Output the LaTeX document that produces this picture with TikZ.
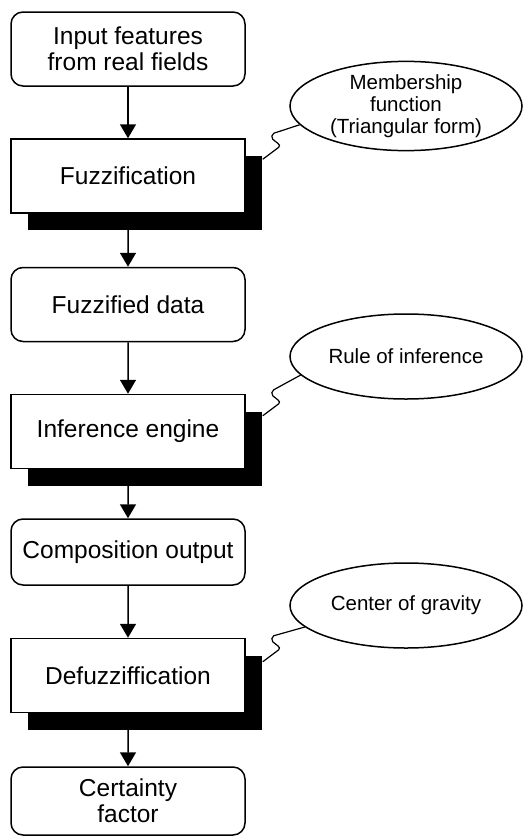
\documentclass[tikz,border=0pt]{standalone}
\usepackage{fontspec}
\setmainfont{Liberation Sans}
\usepackage{tikz}
\usetikzlibrary{trees,shapes.geometric,shadows,arrows.meta}
\tikzset{
	stage/.style = {
		shape=rectangle,
		rounded corners=12pt,
		draw,
		line width=1.5pt,
		fill=white,
		align=center,
		minimum width=234pt,
		minimum height=74pt,
		font=\fontsize{24.5}{26}\selectfont
	},
	process/.style = {
		stage,
		sharp corners,
		drop shadow={shadow xshift=17pt, shadow yshift=-17pt, fill=black, opacity=1}
	},
	note/.style = {
		shape=ellipse,
		draw,
		line width=1.5pt,
		align=center,
		inner sep=0pt,
		minimum width=232pt,
		minimum height=85pt,
		font=\fontsize{20.5}{22}\selectfont
	},
	link/.style = {line width=1.2pt},
	edge from parent/.style = {draw, line width=1.5pt, -{Triangle[width=16pt,length=14pt]}},
	parent anchor=south,
	child anchor=north,
	level 1/.style={level distance=127pt},
	level 2/.style={level distance=128.5pt},
	level 3/.style={level distance=127pt},
	level 4/.style={level distance=120.5pt},
	level 5/.style={level distance=123.5pt},
	level 6/.style={level distance=125.5pt}
}

\begin{document}
\begin{tikzpicture}
	\useasboundingbox (0pt,0pt) rectangle (527pt,-836pt);
				\node[stage] (input) at (128pt,-49pt) {Input features\\from real fields}
				child {
					node[process] (fuzz) {Fuzzification}
					child {
						node[stage] (fdata) {Fuzzified data}
						child {
							node[process] (engine) {Inference engine}
							child {
								node[stage, minimum height=66pt] (comp) {Composition output}
								child {
									node[process] (defuzz) {Defuzziffication}
									child {
										node[stage, minimum height=68pt] (cf) {Certainty\\factor}
									}
								}
							}
						}
					}
				};

				% side notes
				\node[note] (mf) at ([shift={(278pt,70pt)}]fuzz.center) {Membership\\function\\(Triangular form)};
				\node[note] (rule) at ([shift={(278pt,75pt)}]engine.center) {Rule of inference};
				\node[note] (cog) at ([shift={(278pt,70pt)}]defuzz.center) {Center of gravity};

				\coordinate (fuzzsh) at ([shift={(17pt,-21pt)}]fuzz.north east);
				\coordinate (enginesh) at ([shift={(17pt,-22pt)}]engine.north east);
				\coordinate (defuzzsh) at ([shift={(17pt,-24pt)}]defuzz.north east);

				\draw[link] (fuzzsh) -- ++(16pt,12pt) to[out=40,in=-45] ++(-6pt,8pt) to[out=135,in=210] ++(1pt,6pt) -- (mf.190);
				\draw[link] (enginesh) -- ++(16pt,12pt) to[out=40,in=-45] ++(-6pt,8pt) to[out=135,in=210] ++(1pt,6pt) -- (rule.190);
				\draw[link] (defuzzsh) -- ++(16pt,12pt) to[out=40,in=-45] ++(-6pt,8pt) to[out=135,in=210] ++(1pt,6pt) -- (cog.192);
			\end{tikzpicture}
\end{document}
